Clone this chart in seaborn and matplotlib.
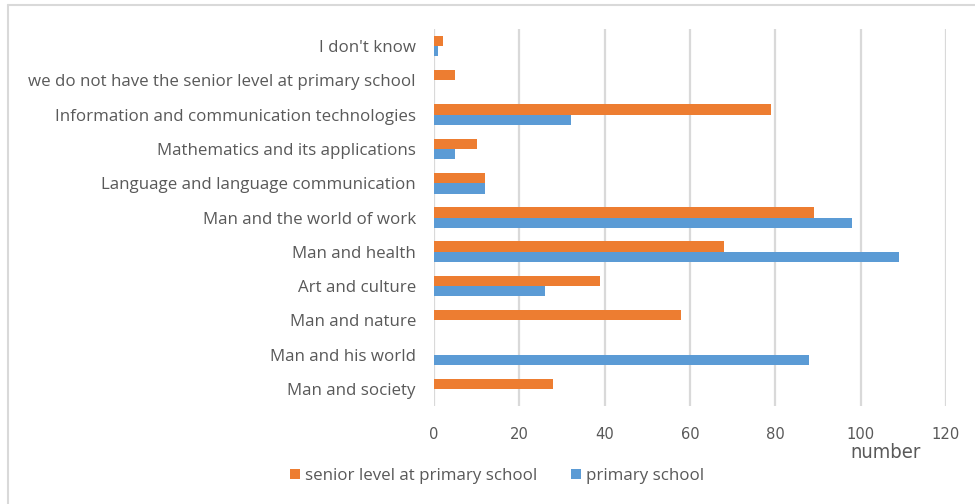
import matplotlib
matplotlib.use("Agg")
import matplotlib.pyplot as plt
import seaborn as sns
import pandas as pd
from matplotlib.lines import Line2D

categories = [
    "I don't know",
    "we do not have the senior level at primary school",
    "Information and communication technologies",
    "Mathematics and its applications",
    "Language and language communication",
    "Man and the world of work",
    "Man and health",
    "Art and culture",
    "Man and nature",
    "Man and his world",
    "Man and society",
]
senior = [2, 5, 79, 10, 12, 89, 68, 39, 58, 0, 28]
primary = [1, 0, 32, 5, 12, 98, 109, 26, 0, 88, 0]
series_names = ["senior level at primary school", "primary school"]
x_ticks = [0, 20, 40, 60, 80, 100, 120]
x_label = "number"

df = pd.DataFrame({
    "category": categories * 2,
    "value": senior + primary,
    "series": [series_names[0]] * len(categories) + [series_names[1]] * len(categories),
})

sns.set_theme(style="white")
TEXT = "#595959"
GRID = "#D9D9D9"

fig = plt.figure(figsize=(9.75, 5.04), dpi=100)
ax = fig.add_axes([434 / 975, 1 - 406 / 504, (946 - 434) / 975, (406 - 29) / 504])

sns.barplot(data=df, y="category", x="value", hue="series", order=categories,
            hue_order=series_names, palette=["#ED7D31", "#5B9BD5"],
            orient="h", width=0.6, gap=0, saturation=1, linewidth=0,
            ax=ax, legend=True)

ax.set_xlim(0, 120)
ax.set_xticks(x_ticks)
ax.set_ylim(len(categories) - 0.5, -0.5)
ax.set_xlabel("")
ax.set_ylabel("")
for s in ["top", "right", "bottom", "left"]:
    ax.spines[s].set_visible(False)
ax.set_axisbelow(True)
ax.xaxis.grid(True, color=GRID, linewidth=1.6)
ax.yaxis.grid(False)
ax.tick_params(axis="x", length=0, pad=15, colors=TEXT)
ax.tick_params(axis="y", length=0, pad=13, colors=TEXT)
for lbl in ax.get_yticklabels():
    lbl.set_fontfamily(["Open Sans", "DejaVu Sans"])
    lbl.set_fontsize(12.2)
    lbl.set_color(TEXT)
for lbl in ax.get_xticklabels():
    lbl.set_fontfamily(["DejaVu Sans"])
    lbl.set_fontstretch("condensed")
    lbl.set_fontsize(11.8)
    lbl.set_color(TEXT)

fig.text(886 / 975, 1 - 452 / 504, x_label, ha="center", va="center",
         fontsize=14.5, color=TEXT, family=["DejaVu Sans"], fontstretch="condensed")

handles, labels = ax.get_legend_handles_labels()
ax.get_legend().remove()
fig.legend(handles, labels, loc="center", bbox_to_anchor=(497 / 975, 1 - 476 / 504),
           ncol=2, frameon=False, handlelength=0.6, handleheight=0.6,
           handletextpad=0.3, columnspacing=2.0,
           prop={"family": ["Open Sans", "DejaVu Sans"], "size": 12.2}, labelcolor=TEXT)

# outer chart frame (top and left edges visible)
fig.add_artist(Line2D([8 / 975, 1], [1 - 5 / 504, 1 - 5 / 504], transform=fig.transFigure,
                      color=GRID, linewidth=1.5))
fig.add_artist(Line2D([8 / 975, 8 / 975], [0, 1 - 5 / 504], transform=fig.transFigure,
                      color=GRID, linewidth=1.5))

fig.savefig("out.png", dpi=100, facecolor="white")
